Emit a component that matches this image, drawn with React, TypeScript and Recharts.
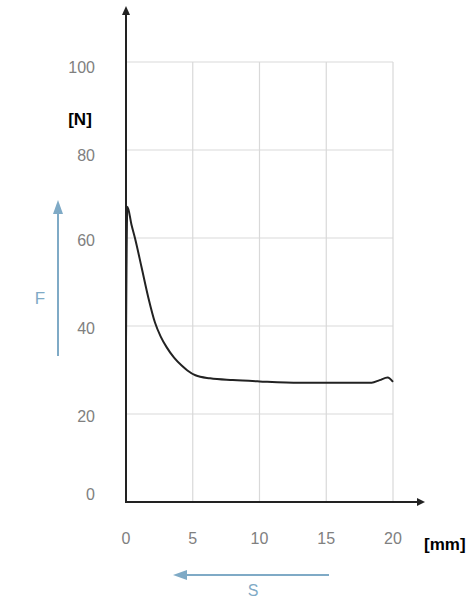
import { CartesianGrid, Line, LineChart, XAxis, YAxis } from 'recharts';

const travel = [0, 0.1, 0.42, 0.67, 1.17, 1.67, 2.17, 2.6, 3.04, 3.6, 4.17, 4.6, 5.2, 6.3, 8, 10, 13, 16, 18.4, 19, 19.6, 20];
const force = [36, 67.1, 62.9, 60, 53.3, 46.5, 40.8, 37.6, 35.2, 32.8, 31, 29.9, 28.8, 28.1, 27.7, 27.4, 27.1, 27.1, 27.1, 27.7, 28.3, 27.3];
const xTicks = [0, 5, 10, 15, 20];
const yTicks = [0, 20, 40, 60, 80, 100];

const data = travel.map((s, i) => ({ s, f: force[i] }));

const W = 474;
const H = 601;
const BLUE = '#7faac6';
const AXIS = '#222';
const TICK = '#808080';

// the source labels sit a little off their gridlines
const yLabelShift: Record<number, number> = { 0: -8, 20: 2, 40: 2, 60: 2, 80: 5, 100: 5 };

function YTick(props: any) {
  const { x, y, payload } = props;
  return (
    <text x={x} y={y + (yLabelShift[payload.value] ?? 0)} dy="0.36em" textAnchor="end" fill={TICK} fontSize={16}>
      {payload.value}
    </text>
  );
}

export default function App() {
  return (
    <div style={{ position: 'absolute', left: 0, top: 0, width: W, height: H, background: '#fff' }}>
      <LineChart
        width={W}
        height={H}
        data={data}
        margin={{ top: 62, right: 81, left: 66, bottom: 59 }}
        style={{ fontFamily: '"Liberation Sans", Arial, sans-serif' }}
      >
        <CartesianGrid
          stroke="#d9d9d9"
          strokeWidth={1.2}
          horizontalValues={[20, 40, 60, 80, 100]}
          verticalValues={[5, 10, 15, 20]}
        />
        <XAxis
          type="number"
          dataKey="s"
          domain={[0, 20]}
          ticks={xTicks}
          axisLine={false}
          tickLine={false}
          tickSize={0}
          tickMargin={31}
          tick={{ fill: TICK, fontSize: 16 }}
          height={40}
        />
        <YAxis
          type="number"
          domain={[0, 100]}
          ticks={yTicks}
          axisLine={false}
          tickLine={false}
          tickSize={0}
          tickMargin={31}
          tick={<YTick />}
          width={60}
        />
        <Line
          type="monotone"
          dataKey="f"
          stroke={AXIS}
          strokeWidth={2}
          dot={false}
          isAnimationActive={false}
        />
      </LineChart>
      <svg
        width={W}
        height={H}
        style={{ position: 'absolute', left: 0, top: 0, pointerEvents: 'none', fontFamily: '"Liberation Sans", Arial, sans-serif' }}
      >
        {/* axes with arrowheads */}
        <line x1={126} y1={503} x2={126} y2={14} stroke={AXIS} strokeWidth={2} />
        <polygon points="122,15 130,15 126,6" fill={AXIS} />
        <line x1={125} y1={502} x2={418} y2={502} stroke={AXIS} strokeWidth={2} />
        <polygon points="417,498 417,506 425,502" fill={AXIS} />
        <text x={80} y={125} textAnchor="middle" fontSize={17} fontWeight="bold" fill="#000">[N]</text>
        <text x={424} y={550} fontSize={17} fontWeight="bold" fill="#000">[mm]</text>
        {/* force arrow */}
        <line x1={58} y1={356} x2={58} y2={212} stroke={BLUE} strokeWidth={2} />
        <polygon points="53,214 63,214 58,200" fill={BLUE} />
        <text x={40} y={304} textAnchor="middle" fontSize={17} fill={BLUE}>F</text>
        {/* stroke arrow */}
        <line x1={329} y1={575} x2={186} y2={575} stroke={BLUE} strokeWidth={2} />
        <polygon points="187,570 187,580 173,575" fill={BLUE} />
        <text x={253} y={596} textAnchor="middle" fontSize={16} fill={BLUE}>S</text>
      </svg>
    </div>
  );
}
